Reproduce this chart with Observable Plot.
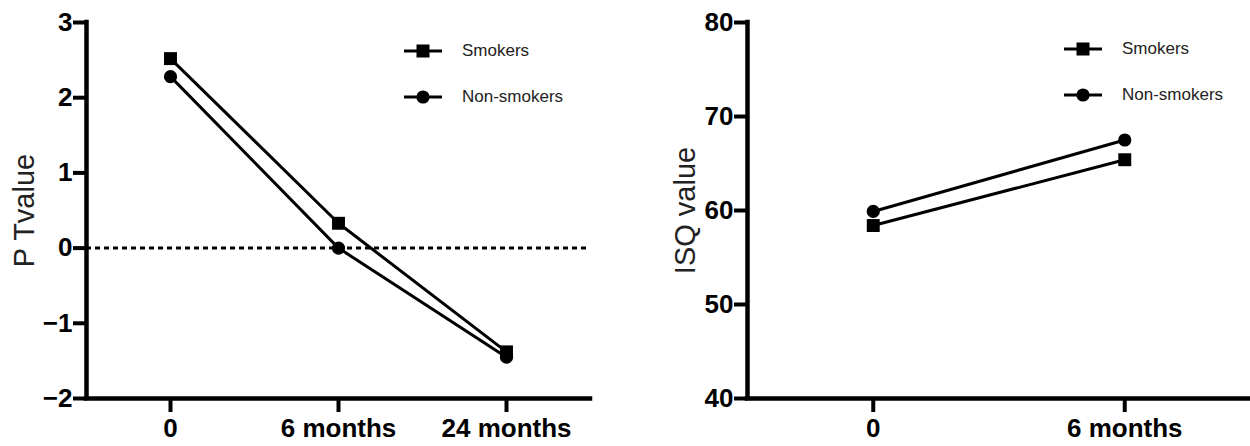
<!DOCTYPE html>
<html>
<head>
<meta charset="utf-8">
<script src="https://cdn.jsdelivr.net/npm/d3@7"></script>
<script src="https://cdn.jsdelivr.net/npm/@observablehq/plot@0.6"></script>
<style>
  html, body { margin: 0; padding: 0; background: #fff; }
  #wrap { position: relative; width: 1250px; height: 446px; overflow: hidden; font-family: "Liberation Sans", Arial, sans-serif; }
  .panel { position: absolute; top: 0; }
  .legend { position: absolute; font-size: 17px; color: #222; }
  .legend .row { position: absolute; left: 0; height: 20px; white-space: nowrap; }
  .legend svg { position: absolute; left: 0; top: 0; }
  .legend span { position: absolute; top: 0; line-height: 20px; }
</style>
</head>
<body>
<div id="wrap">
  <div class="panel" id="left" style="left:0"></div>
  <div class="panel" id="right" style="left:625px"></div>
</div>
<script>
// ---- data ----
const seriesNames = ["Smokers", "Non-smokers"];
const seriesSymbols = ["square", "circle"];

const leftCategories = ["0", "6 months", "24 months"];
const leftSmokers = [2.52, 0.33, -1.38];
const leftNonSmokers = [2.28, 0.0, -1.45];
const leftYTicks = [-2, -1, 0, 1, 2, 3];
const leftYTitle = "P Tvalue";

const rightCategories = ["0", "6 months"];
const rightSmokers = [58.4, 65.4];
const rightNonSmokers = [59.9, 67.5];
const rightYTicks = [40, 50, 60, 70, 80];
const rightYTitle = "ISQ value";

function rows(categories, a, b) {
  const out = [];
  categories.forEach((c, i) => {
    out.push({i, series: seriesNames[0], value: a[i]});
  });
  categories.forEach((c, i) => {
    out.push({i, series: seriesNames[1], value: b[i]});
  });
  return out;
}

function makeChart({categories, data, yTicks, yTitle, marginLeft, marginRight, zeroLine}) {
  const n = categories.length;
  const yDomain = [d3.min(yTicks), d3.max(yTicks)];
  const marks = [];
  if (zeroLine) marks.push(Plot.ruleY([0], {stroke: "#000", strokeWidth: 3, strokeDasharray: "5,4"}));
  marks.push(
    Plot.ruleX([-0.5], {stroke: "#000", strokeWidth: 4.5, strokeLinecap: "square"}),
    Plot.ruleY([yDomain[0]], {stroke: "#000", strokeWidth: 4.5, strokeLinecap: "square"}),
    Plot.axisY({ticks: yTicks, tickFormat: d => d < 0 ? "\u2212" + Math.abs(d) : String(d), tickSize: 13, tickPadding: 1, strokeWidth: 4, fontSize: 26, fontWeight: "bold", label: null, fill: "#000"}),
    Plot.axisX({ticks: d3.range(n), tickFormat: i => categories[i], tickSize: 14, tickPadding: 6, strokeWidth: 4, fontSize: 26, fontWeight: "bold", label: null, fill: "#000"}),
    Plot.text([yTitle], {frameAnchor: "left", rotate: -90, dx: -53, fontSize: 29, lineAnchor: "bottom", textAnchor: "middle", fill: "#222"}),
    Plot.line(data, {x: "i", y: "value", z: "series", stroke: "#000", strokeWidth: 3}),
    Plot.dot(data.filter(d => d.series === seriesNames[0]), {x: "i", y: "value", symbol: () => seriesSymbols[0], r: 7.3, fill: "#000", stroke: "none"}),
    Plot.dot(data.filter(d => d.series === seriesNames[1]), {x: "i", y: "value", symbol: () => seriesSymbols[1], r: 6.6, fill: "#000", stroke: "none"})
  );
  return Plot.plot({
    width: 625,
    height: 446,
    marginTop: 22,
    marginBottom: 48,
    marginLeft,
    marginRight,
    style: {fontFamily: "'Liberation Sans', Arial, sans-serif", background: "transparent", overflow: "visible"},
    x: {type: "linear", domain: [-0.5, n - 0.5], axis: null},
    y: {domain: yDomain, axis: null},
    symbol: {domain: seriesSymbols, range: seriesSymbols},
    marks
  });
}

function makeLegend(left, top) {
  const lg = document.createElement("div");
  lg.className = "legend";
  lg.style.left = left + "px";
  lg.style.top = top + "px";
  seriesNames.forEach((name, k) => {
    const row = document.createElement("div");
    row.className = "row";
    row.style.top = (k * 46) + "px";
    const sym = seriesSymbols[k];
    const marker = sym === "square"
      ? `<rect x="12.5" y="3.5" width="13" height="13" fill="#000"/>`
      : `<circle cx="19" cy="10" r="6.6" fill="#000"/>`;
    row.innerHTML = `<svg width="40" height="20"><line x1="0" y1="10" x2="38" y2="10" stroke="#000" stroke-width="3"/>${marker}</svg><span style="left:58px">${name}</span>`;
    lg.appendChild(row);
  });
  return lg;
}

document.getElementById("left").appendChild(makeChart({
  categories: leftCategories,
  data: rows(leftCategories, leftSmokers, leftNonSmokers),
  yTicks: leftYTicks, yTitle: leftYTitle,
  marginLeft: 86, marginRight: 35, zeroLine: true
}));
document.getElementById("right").appendChild(makeChart({
  categories: rightCategories,
  data: rows(rightCategories, rightSmokers, rightNonSmokers),
  yTicks: rightYTicks, yTitle: rightYTitle,
  marginLeft: 122, marginRight: 0, zeroLine: false
}));
document.getElementById("wrap").appendChild(makeLegend(404, 41));
document.getElementById("wrap").appendChild(makeLegend(1064, 39));
</script>
</body>
</html>
